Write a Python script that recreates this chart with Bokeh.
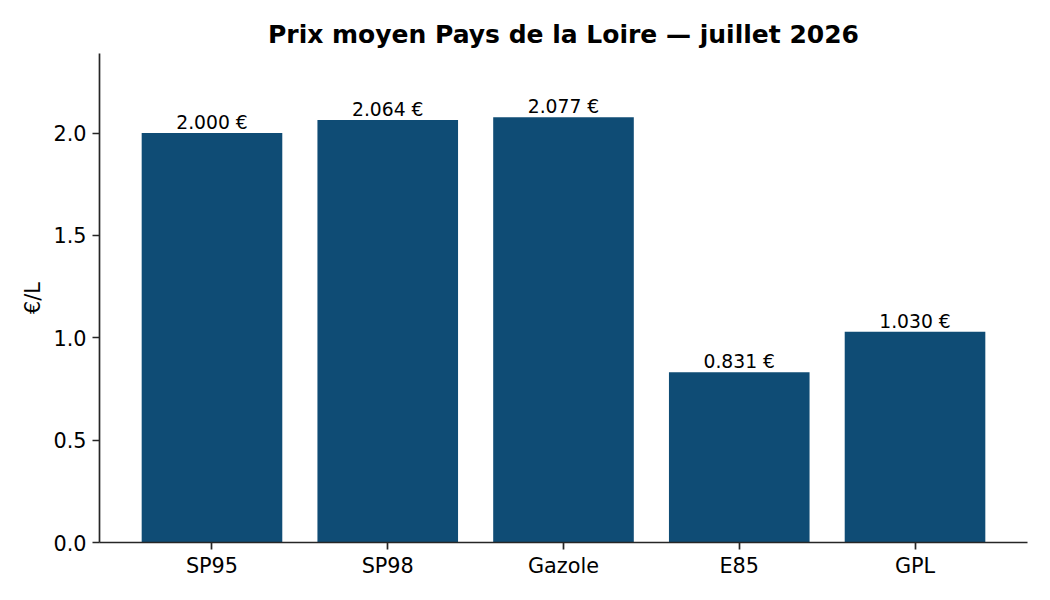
from bokeh.plotting import figure
from bokeh.models import FactorRange, Range1d, ColumnDataSource, FixedTicker, NumeralTickFormatter
from bokeh.core.properties import value
from bokeh.embed import file_html
from bokeh.resources import INLINE

categories = ["SP95", "SP98", "Gazole", "E85", "GPL"]
prices = [2.000, 2.064, 2.077, 0.831, 1.030]
y_ticks = [0.0, 0.5, 1.0, 1.5, 2.0]
title_text = "Prix moyen Pays de la Loire \u2014 juillet 2026"
y_label = "\u20ac/L"

BAR = "#0f4c75"
AX = "#262626"
FONT = "DejaVu Sans"

labels = [f"{v:.3f} \u20ac" for v in prices]
src = ColumnDataSource(dict(cat=categories, price=prices, label=labels))

x_range = FactorRange(factors=categories, range_padding=0.14, range_padding_units="absolute")
y_range = Range1d(0, max(prices) * 1.15)

p = figure(width=1034, height=584, x_range=x_range, y_range=y_range,
           output_backend="svg", toolbar_location=None,
           min_border_left=99, min_border_right=7, min_border_top=53, min_border_bottom=42)

p.vbar(x="cat", top="price", width=0.8, source=src, color=BAR, line_color=None)
p.text(x="cat", y="price", text="label", source=src, text_align="center",
       text_baseline="alphabetic", y_offset=-10.5, text_font=value(FONT),
       text_font_size="18.75px", text_color="#000000")

p.title.text = title_text
p.title.align = "center"
p.title.text_font = FONT
p.title.text_font_size = "25px"
p.title.text_font_style = "bold"
p.title.text_color = "#000000"

p.xgrid.visible = False
p.ygrid.visible = False
p.outline_line_color = None

for ax in (p.xaxis[0], p.yaxis[0]):
    ax.axis_line_color = AX
    ax.axis_line_width = 1.7
    ax.major_tick_line_color = AX
    ax.major_tick_line_width = 1.7
    ax.major_tick_out = 7
    ax.major_tick_in = 0
    ax.minor_tick_line_color = None
    ax.major_label_text_font = FONT
    ax.major_label_text_font_size = "20.8px"
    ax.major_label_text_color = "#000000"

p.xaxis[0].major_label_standoff = 4
p.yaxis[0].major_label_standoff = 6
p.yaxis[0].ticker = FixedTicker(ticks=y_ticks)
p.yaxis[0].formatter = NumeralTickFormatter(format="0.0")
p.yaxis[0].axis_label = y_label
p.yaxis[0].axis_label_text_font = FONT
p.yaxis[0].axis_label_text_font_size = "20.8px"
p.yaxis[0].axis_label_text_font_style = "normal"
p.yaxis[0].axis_label_text_color = "#000000"
p.yaxis[0].axis_label_standoff = 5

open("out.html", "w").write(file_html(p, INLINE))
